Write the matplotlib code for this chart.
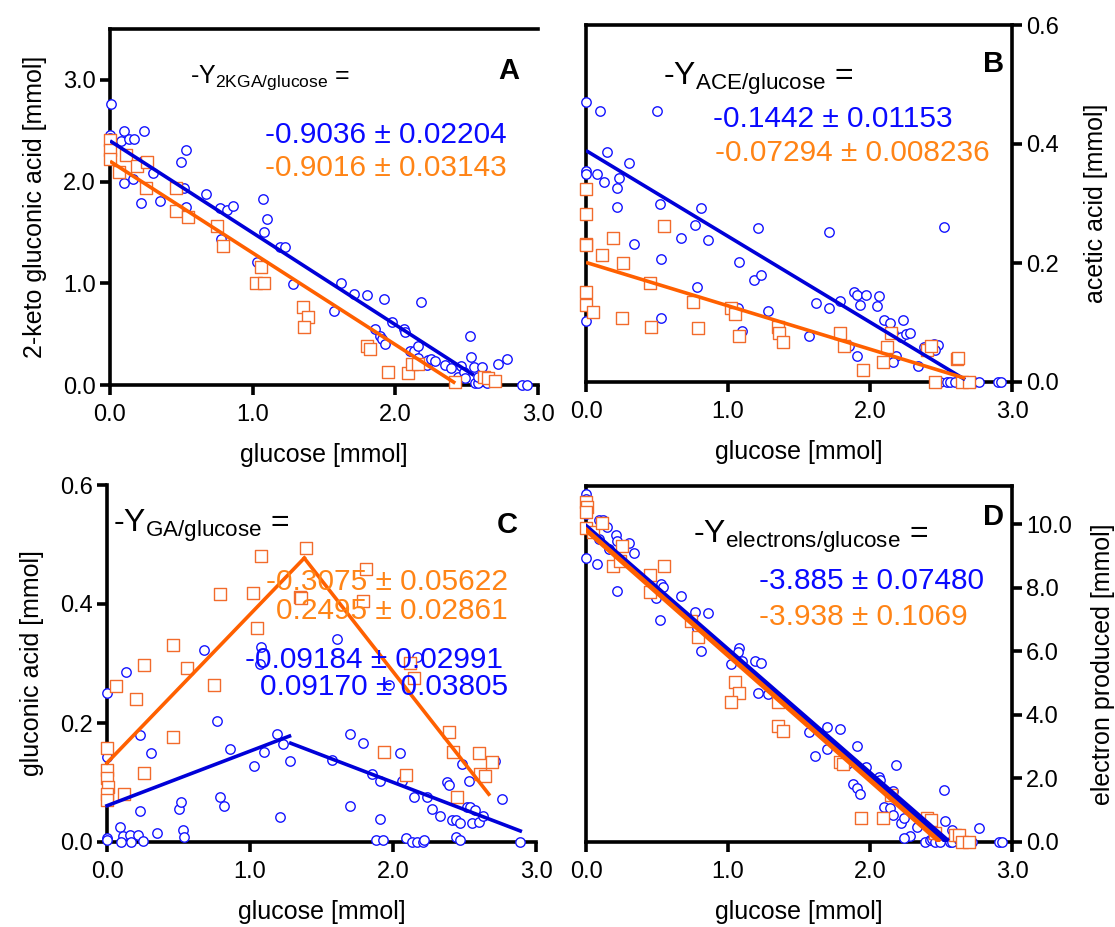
import numpy as np
import matplotlib
matplotlib.use("Agg")
import matplotlib.pyplot as plt

plt.rcParams['font.family'] = ['Liberation Sans', 'DejaVu Sans']
plt.rcParams['mathtext.fontset'] = 'custom'
plt.rcParams['mathtext.rm'] = 'Liberation Sans'
plt.rcParams['mathtext.it'] = 'Liberation Sans'

# ---- panel A: 2-keto gluconic acid vs glucose ----
a_blue_x = [0.005, 0, 0, 0, 0, 0.08, 0.10, 0.13, 0.17, 0.235, 0.23, 0.16, 0.10, 0.22, 0.30, 0.35,
            0.50, 0.53, 0.52, 0.53, 0.67, 0.77, 0.82, 0.86, 0.78, 1.07, 1.10, 1.08, 1.03, 1.19,
            1.23, 1.28, 1.57, 1.62, 1.71, 1.80, 1.92, 1.86, 1.89, 1.91, 1.93, 1.98, 2.06, 2.07,
            2.10, 2.13, 2.16, 2.16, 2.18, 2.22, 2.23, 2.25, 2.28, 2.35, 2.39, 2.42, 2.44, 2.46,
            2.48, 2.49, 2.52, 2.53, 2.55, 2.56, 2.58, 2.58, 2.61, 2.64, 2.72, 2.78, 2.89, 2.92]
a_blue_y = [2.76, 2.46, 2.43, 2.40, 2.35, 2.40, 2.50, 2.42, 2.42, 2.50, 2.20, 2.03, 1.99, 1.79, 2.08, 1.81,
            2.19, 2.31, 1.94, 1.75, 1.88, 1.74, 1.72, 1.76, 1.44, 1.83, 1.63, 1.50, 1.21, 1.36,
            1.36, 0.99, 0.73, 1.00, 0.89, 0.88, 0.85, 0.55, 0.48, 0.45, 0.40, 0.62, 0.55, 0.52,
            0.33, 0.33, 0.38, 0.27, 0.82, 0.20, 0.25, 0.26, 0.24, 0.20, 0.17, 0.04, 0.08, 0.19,
            0.13, 0.07, 0.48, 0.28, 0.18, 0.02, 0.02, 0.08, 0.18, 0.02, 0.21, 0.26, 0.0, 0.0]
a_orange_x = [0, 0, 0.0, 0.06, 0.115, 0.19, 0.26, 0.25, 0.46, 0.46, 0.55, 0.75, 0.79, 1.06, 1.02,
              1.08, 1.35, 1.39, 1.36, 1.80, 1.82, 1.95, 2.09, 2.12, 2.16, 2.42, 2.62, 2.65, 2.70]
a_orange_y = [2.41, 2.31, 2.22, 2.09, 2.26, 2.15, 2.19, 1.94, 1.94, 1.71, 1.65, 1.56, 1.37, 1.16, 1.00,
              1.00, 0.77, 0.67, 0.57, 0.38, 0.35, 0.13, 0.12, 0.21, 0.21, 0.03, 0.08, 0.07, 0.04]
a_fit = {'blue': (2.40, -0.9036, 2.55), 'orange': (2.20, -0.9016, 2.42)}  # intercept, slope, x end

# ---- panel B: acetic acid vs glucose ----
b_blue_x = [0, 0.10, 0.50, 0.15, 0.30, 0, 0, 0.08, 0.125, 0.23, 0.22, 0.215, 0.34, 0.52, 0.53, 0.53,
            0.67, 0.77, 0.81, 0.86, 0.78, 1.21, 1.08, 1.18, 1.23, 1.02, 1.07, 1.10, 1.28, 1.57,
            1.62, 1.71, 1.71, 1.79, 1.89, 1.91, 1.97, 1.93, 2.06, 2.05, 1.91, 2.10, 2.14, 2.23,
            2.16, 2.22, 2.25, 2.28, 2.18, 2.16, 2.34, 2.38, 2.45, 2.48, 2.46, 2.52, 2.49, 2.54,
            2.56, 2.60, 2.73, 2.77, 2.90, 2.92, 0, 1.85]
b_blue_y = [0.470, 0.456, 0.456, 0.386, 0.368, 0.354, 0.350, 0.350, 0.336, 0.343, 0.326, 0.294, 0.232,
            0.299, 0.207, 0.108, 0.242, 0.264, 0.292, 0.238, 0.159, 0.258, 0.202, 0.171, 0.180,
            0.122, 0.124, 0.086, 0.119, 0.077, 0.133, 0.252, 0.124, 0.136, 0.151, 0.146, 0.147,
            0.130, 0.144, 0.127, 0.043, 0.105, 0.100, 0.105, 0.082, 0.076, 0.080, 0.083, 0.043,
            0.034, 0.027, 0.059, 0.064, 0.063, 0.053, 0.261, 0, 0, 0, 0, 0, 0, 0, 0, 0.103, 0.061]
b_orange_x = [0, 0, 0.003, 0, 0, 0, 0.05, 0.11, 0.19, 0.26, 0.25, 0.45, 0.46, 0.55, 0.75, 0.79, 1.02,
              1.05, 1.08, 1.35, 1.36, 1.39, 1.79, 1.82, 1.95, 2.09, 2.12, 2.15, 2.40, 2.43, 2.61,
              2.62, 2.46, 2.65, 2.70]
b_orange_y = [0.324, 0.283, 0.232, 0.230, 0.152, 0.130, 0.117, 0.213, 0.242, 0.200, 0.107, 0.166, 0.092,
              0.262, 0.135, 0.090, 0.124, 0.115, 0.077, 0.093, 0.082, 0.068, 0.083, 0.060, 0.021,
              0.034, 0.059, 0.082, 0.053, 0.060, 0.039, 0.041, 0, 0, 0]
b_fit = {'blue': (0.389, -0.1442, 2.67), 'orange': (0.201, -0.07294, 2.67)}

# ---- panel C: gluconic acid vs glucose ----
c_blue_x = [0, 0, 0, 0, 0.13, 0.23, 0.31, 0.68, 0.77, 0.86, 1.08, 1.07, 1.03, 1.10, 1.19, 1.23, 1.28,
            1.21, 1.61, 1.70, 1.79, 1.57, 1.85, 1.91, 2.05, 2.06, 2.17, 1.97, 2.15, 2.24, 2.27,
            2.33, 2.38, 2.39, 2.41, 2.44, 2.47, 2.48, 2.53, 2.52, 2.54, 2.55, 2.57, 2.60, 2.63,
            2.71, 2.76, 2.89, 0.09, 0.11, 0.10, 0.16, 0.17, 0.22, 0.25, 0.23, 0.35, 0.50, 0.52,
            0.53, 0.54, 0.79, 0.82, 1.70, 1.91, 1.88, 1.93, 2.09, 2.13, 2.17, 2.21, 2.22, 2.44, 2.47]
c_blue_y = [0.251, 0.143, 0.007, 0.003, 0.285, 0.179, 0.149, 0.323, 0.203, 0.156, 0.328, 0.300, 0.127,
            0.151, 0.182, 0.165, 0.136, 0.042, 0.341, 0.182, 0.167, 0.137, 0.114, 0.103, 0.149,
            0.103, 0.311, 0.264, 0.075, 0.075, 0.055, 0.044, 0.101, 0.096, 0.037, 0.037, 0.032,
            0.131, 0.103, 0.058, 0.059, 0.032, 0.054, 0.034, 0.044, 0.136, 0.072, 0.0, 0.025,
            0.010, 0.0, 0.012, 0.0, 0.011, 0.002, 0.052, 0.015, 0.056, 0.068, 0.021, 0.008, 0.076,
            0.061, 0.060, 0.038, 0.004, 0.003, 0.006, 0.0, 0.0, 0.0, 0.003, 0.008, 0.004]
c_orange_x = [1.39, 1.08, 1.81, 0.79, 1.02, 1.35, 1.36, 1.79, 1.05, 0.46, 0.26, 0.56, 0.75, 0.06, 0.20,
              2.12, 2.15, 0.46, 0, 0, 0, 0.01, 0, 0, 0.26, 0.12, 2.39, 2.42, 1.94, 2.60, 2.69,
              2.61, 2.64, 2.09, 2.45]
c_orange_y = [0.494, 0.480, 0.458, 0.416, 0.418, 0.412, 0.410, 0.405, 0.360, 0.331, 0.298, 0.293, 0.264,
              0.262, 0.240, 0.301, 0.276, 0.177, 0.158, 0.121, 0.107, 0.093, 0.081, 0.071, 0.116,
              0.080, 0.185, 0.151, 0.151, 0.149, 0.134, 0.114, 0.111, 0.113, 0.075]
# two-segment fits: (x start, y start, slope, x end)
c_fit_blue = [(0.0, 0.061, 0.09170, 1.276), (1.285, 0.166, -0.09184, 2.89)]
c_fit_orange = [(0.0, 0.133, 0.2495, 1.38), (1.38, 0.477, -0.3075, 2.67)]

# ---- panel D: electrons produced vs glucose ----
d_blue_x = [0, 0, 0, 0, 0, 0.075, 0.09, 0.12, 0.15, 0.09, 0.21, 0.22, 0.30, 0.34, 0.16, 0.22, 0.23,
            0.49, 0.52, 0.53, 0.54, 0.67, 0.77, 0.86, 0.78, 0.81, 1.02, 1.08, 1.07, 1.10, 1.19,
            1.23, 1.21, 1.28, 1.57, 1.61, 1.70, 1.70, 1.79, 1.84, 1.91, 1.88, 1.91, 1.93, 1.97,
            2.06, 2.07, 2.10, 2.14, 2.16, 2.16, 2.18, 2.22, 2.24, 2.28, 2.24, 2.33, 2.39, 2.42,
            2.44, 2.46, 2.49, 2.52, 2.53, 2.56, 2.58, 2.58, 2.63, 2.72, 2.77, 2.91, 2.93]
d_blue_y = [10.96, 10.79, 10.52, 10.31, 8.95, 8.74, 10.13, 10.13, 9.90, 9.53, 9.66, 9.48, 9.42, 9.08,
            9.21, 7.91, 8.85, 7.68, 6.98, 8.12, 8.03, 7.73, 7.25, 7.19, 6.73, 6.01, 5.59, 6.09,
            5.97, 5.68, 5.68, 5.63, 4.69, 4.65, 3.46, 2.72, 3.61, 2.93, 3.56, 2.46, 3.02, 1.83,
            1.71, 1.50, 2.36, 2.06, 1.96, 1.10, 1.07, 1.62, 0.84, 2.41, 0.60, 0.76, 0.18, 0.13,
            0.47, 0.0, 0.05, 0.10, 0.0, 0.0, 1.65, 0.66, 0.0, 0.37, 0.0, 0.05, 0.0, 0.45, 0.0, 0.0]
d_orange_x = [0, 0.005, 0, 0, 0.05, 0.11, 0.19, 0.25, 0.24, 0.45, 0.55, 0.45, 0.74, 0.79, 1.05, 1.08,
              1.02, 1.35, 1.39, 1.35, 1.79, 1.81, 1.94, 2.09, 2.15, 2.40, 2.43, 2.46, 2.60, 2.63,
              2.65, 2.70]
d_orange_y = [10.71, 10.54, 10.37, 9.87, 9.74, 10.05, 8.69, 9.32, 8.85, 8.40, 8.69, 7.88, 6.94, 6.46,
              5.04, 4.70, 4.42, 3.66, 3.49, 4.40, 2.51, 2.44, 0.76, 0.76, 1.49, 0.75, 0.68, 0.28,
              0.23, 0.23, 0.0, 0.0]
d_fit = {'blue': (9.90, -3.885, 2.53), 'orange': (9.82, -3.938, 2.48)}

BLUE_M = '#1414ff'
ORANGE_M = '#f26b2c'
BLUE_L = '#0000d8'
ORANGE_L = '#ff6000'
BLUE_T = '#0a0aff'
ORANGE_T = '#ff8416'

W, H = 1115, 927
fig = plt.figure(figsize=(W / 100, H / 100), dpi=100)


def box(left, top, right, bottom):
    return [left / W, 1 - bottom / H, (right - left) / W, (bottom - top) / H]


def ftext(x, y, s, **kw):
    fig.text(x / W, 1 - y / H, s, va='baseline', **kw)


def style(ax, spines, right_axis=False):
    for side in ['left', 'right', 'top', 'bottom']:
        ax.spines[side].set_visible(side in spines)
        ax.spines[side].set_linewidth(2.6)
    ax.tick_params(width=2.6, length=7, labelsize=17, direction='out')
    ax.tick_params(axis='x', pad=7)
    ax.tick_params(axis='y', pad=3)
    if right_axis:
        ax.yaxis.tick_right()
        ax.yaxis.set_label_position('right')
    ax.set_xlim(0, 3.0)
    ax.set_xticks([0, 1, 2, 3])
    ax.set_xticklabels(['0.0', '1.0', '2.0', '3.0'])
    ax.set_xlabel('glucose [mmol]', fontsize=18, labelpad=12)


def points(ax, bx, by, ox, oy):
    ax.scatter(bx, by, s=46, marker='o', facecolors='white', edgecolors=BLUE_M,
               linewidths=1.0, zorder=3, clip_on=False)
    ax.scatter(ox, oy, s=66, marker='s', facecolors='white', edgecolors=ORANGE_M,
               linewidths=1.0, zorder=3.1, clip_on=False)


def fit_lines(ax, fits, lw=2.6):
    for key, color in [('blue', BLUE_L), ('orange', ORANGE_L)]:
        b0, k, xe = fits[key]
        xs = np.array([0.0, xe])
        ax.plot(xs, b0 + k * xs, color=color, lw=lw, zorder=4, solid_capstyle='butt')


# Panel A
axA = fig.add_axes(box(110, 29, 538, 385))
style(axA, ['left', 'bottom', 'top'])
points(axA, a_blue_x, a_blue_y, a_orange_x, a_orange_y)
fit_lines(axA, a_fit)
axA.set_ylim(0, 3.5)
axA.set_yticks([0, 1, 2, 3])
axA.set_yticklabels(['0.0', '1.0', '2.0', '3.0'])
axA.set_ylabel('2-keto gluconic acid [mmol]', fontsize=18, labelpad=12)

# Panel B
axB = fig.add_axes(box(586, 25, 1012, 382))
style(axB, ['left', 'bottom', 'top', 'right'], right_axis=True)
points(axB, b_blue_x, b_blue_y, b_orange_x, b_orange_y)
fit_lines(axB, b_fit)
axB.set_ylim(0, 0.6)
axB.set_yticks([0, 0.2, 0.4, 0.6])
axB.set_yticklabels(['0.0', '0.2', '0.4', '0.6'])
axB.set_ylabel('acetic acid [mmol]', fontsize=18, labelpad=18)

# Panel C
axC = fig.add_axes(box(107, 485, 536, 842))
style(axC, ['left', 'bottom'])
points(axC, c_blue_x, c_blue_y, c_orange_x, c_orange_y)
for segs, color in [(c_fit_blue, BLUE_L), (c_fit_orange, ORANGE_L)]:
    for x0, y0, k, x1 in segs:
        xs = np.array([x0, x1])
        axC.plot(xs, y0 + k * (xs - x0), color=color, lw=2.6, zorder=4, clip_on=False)
axC.set_ylim(0, 0.6)
axC.set_yticks([0, 0.2, 0.4, 0.6])
axC.set_yticklabels(['0.0', '0.2', '0.4', '0.6'])
axC.set_ylabel('gluconic acid [mmol]', fontsize=18, labelpad=12)

# Panel D
axD = fig.add_axes(box(586, 486, 1012, 842))
style(axD, ['left', 'bottom', 'top', 'right'], right_axis=True)
points(axD, d_blue_x, d_blue_y, d_orange_x, d_orange_y)
b0, k, xe = d_fit['blue']
axD.plot([0, xe], [b0, b0 + k * xe], color=BLUE_L, lw=4.6, zorder=4)
b0, k, xe = d_fit['orange']
axD.plot([0, xe], [b0, b0 + k * xe], color=ORANGE_L, lw=3.6, zorder=4.1)
axD.set_ylim(0, 11.2)
axD.set_yticks([0, 2, 4, 6, 8, 10])
axD.set_yticklabels(['0.0', '2.0', '4.0', '6.0', '8.0', '10.0'])
axD.set_ylabel('electron produced [mmol]', fontsize=18, labelpad=14)

# annotations
ftext(190, 83, r'-Y$_{\mathrm{2KGA/glucose}}$ =', fontsize=18)
ftext(519, 79, 'A', fontsize=21, fontweight='bold', ha='right')
ftext(507, 143, '-0.9036 ± 0.02204', fontsize=21.5, color=BLUE_T, ha='right')
ftext(507, 176, '-0.9016 ± 0.03143', fontsize=21.5, color=ORANGE_T, ha='right')

ftext(663, 85, r'-Y$_{\mathrm{ACE/glucose}}$ =', fontsize=23)
ftext(1004, 72, 'B', fontsize=21, fontweight='bold', ha='right')
ftext(713, 127, '-0.1442 ± 0.01153', fontsize=21.5, color=BLUE_T)
ftext(715, 161, '-0.07294 ± 0.008236', fontsize=21.5, color=ORANGE_T)

ftext(113, 532, r'-Y$_{\mathrm{GA/glucose}}$ =', fontsize=23)
ftext(518, 533, 'C', fontsize=21, fontweight='bold', ha='right')
ftext(508, 590, '-0.3075 ± 0.05622', fontsize=21.5, color=ORANGE_T, ha='right')
ftext(508, 619, '0.2495 ± 0.02861', fontsize=21.5, color=ORANGE_T, ha='right')
ftext(503, 668, '-0.09184 ± 0.02991', fontsize=21.5, color=BLUE_T, ha='right')
ftext(508, 695, '0.09170 ± 0.03805', fontsize=21.5, color=BLUE_T, ha='right')

ftext(693, 543, r'-Y$_{\mathrm{electrons/glucose}}$ =', fontsize=23)
ftext(1004, 525, 'D', fontsize=21, fontweight='bold', ha='right')
ftext(759, 589, '-3.885 ± 0.07480', fontsize=21.5, color=BLUE_T)
ftext(759, 625, '-3.938 ± 0.1069', fontsize=21.5, color=ORANGE_T)

fig.savefig('out.png', dpi=100)
